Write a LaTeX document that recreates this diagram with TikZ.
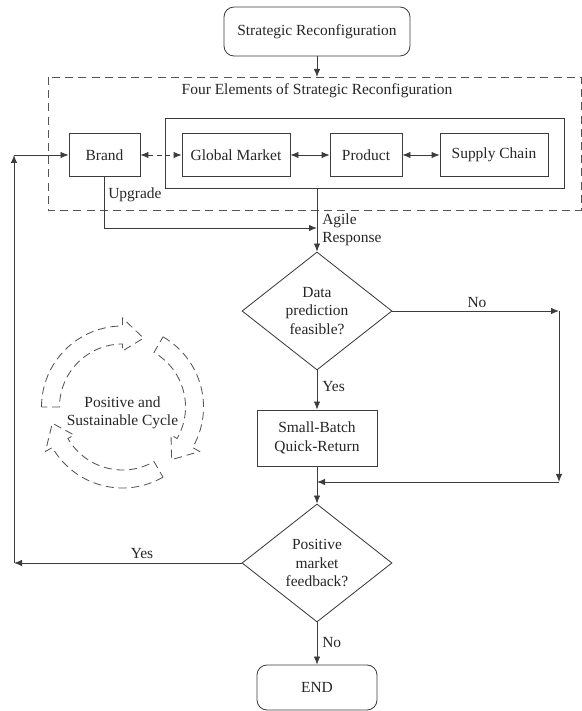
\documentclass[tikz,border=0pt]{standalone}
\usepackage{fontspec}
\setmainfont{Liberation Serif}
\usepackage{xcolor}
\usepackage{tikz}
\usetikzlibrary{shapes.geometric, arrows.meta}

\definecolor{linegray}{HTML}{3C3C3C}
\definecolor{dashgray}{HTML}{555555}

\begin{document}
\begin{tikzpicture}[
    x=0.25mm, y=0.25mm,
    every node/.style={font=\fontsize{11}{13}\selectfont, text=black!85},
    box/.style={draw=linegray, line width=0.6pt, minimum height=10.75mm, inner sep=2pt, align=center},
    termbox/.style={box, rounded corners=2.5mm},
    decision/.style={diamond, draw=linegray, line width=0.6pt, minimum width=37.5mm, minimum height=29.5mm, inner sep=0pt, align=center},
    lbl/.style={inner sep=0.5mm, align=left},
    arrowstyle/.style={-{Latex[length=2mm, width=1.6mm]}, line width=0.6pt, linegray},
    twoway/.style={{Latex[length=2mm, width=1.6mm]}-{Latex[length=2mm, width=1.6mm]}, line width=0.6pt, linegray},
    framedash/.style={dashgray, line width=0.7pt, dash pattern=on 2mm off 1.3mm},
    cycledash/.style={dashgray, line width=0.6pt, dash pattern=on 2mm off 1.2mm}
]

\def\cx{317}      % 主流程中线
\def\Ro{20.25mm}  % 循环外半径
\def\Ri{15.75mm}  % 循环内半径

\useasboundingbox (0,0) rectangle (582,711);

% 起点
\node[termbox, minimum width=46.5mm, minimum height=12.25mm] (start) at (\cx,679.5) {Strategic Reconfiguration};

% 四要素虚线框
\draw[framedash] (48,634) rectangle (581,501);
\node (title) at (\cx,620) {Four Elements of Strategic Reconfiguration};
\node[box, minimum width=99.75mm, minimum height=17.5mm] (core) at (364.5,558) {};

\node[box, minimum width=17.75mm] (brand)   at (104.5,556) {Brand};
\node[box, minimum width=27mm]    (market)  at (236,556)   {Global Market};
\node[box, minimum width=18mm]    (product) at (366,556)   {Product};
\node[box, minimum width=27mm]    (supply)  at (494,556)   {Supply Chain};

\draw[twoway, dash pattern=on 1.2mm off 1mm] (brand) -- (market);
\draw[twoway] (market) -- (product);
\draw[twoway] (product) -- (supply);

\draw[arrowstyle] (start) -- (start |- 0,634);

% 判断与分支
\node[decision] (predict) at (\cx,400) {Data\\prediction\\feasible?};
\node[box, minimum width=30mm, minimum height=14mm] (batch) at (\cx,273) {Small-Batch\\Quick-Return};
\node[decision] (feedback) at (\cx,148) {Positive\\market\\feedback?};
\node[termbox, minimum width=30mm, minimum height=11.25mm] (finish) at (\cx,23.5) {END};

\coordinate (agilejoin) at (\cx,483);
\coordinate (noright)   at (559,400);
\coordinate (nolow)     at (559,229);
\coordinate (merge)     at (\cx,229);
\coordinate (backlow)   at (14,148);
\coordinate (backup)    at (14,556);

\draw[arrowstyle] (brand.south) |- (agilejoin);
\draw[arrowstyle] (predict.north |- core.south) -- (predict.north);
\draw[arrowstyle] (predict.east) -- (noright);
\draw[arrowstyle] (noright) -- (nolow);
\draw[arrowstyle] (nolow) -- (merge);
\draw[arrowstyle] (predict.south) -- (batch.north);
\draw[arrowstyle] (batch.south) -- (feedback.north);
\draw[arrowstyle] (feedback.south) -- (finish.north);
\draw[arrowstyle] (feedback.west) -- (backlow);
\draw[arrowstyle] (backlow) -- (backup);
\draw[arrowstyle] (backup) -- (brand.west);

% 标注
\node[lbl, anchor=west] (upgrade) at (106,516) {Upgrade};
\node[lbl, anchor=west] (agile)   at (320,481) {Agile\\Response};
\node[lbl] (nolabel)  at (477,408) {No};
\node[lbl, anchor=west] (yeslabel) at (320,324) {Yes};
\node[lbl, anchor=west] (endno)    at (320,68)  {No};
\node[lbl] (yesback)  at (142,157) {Yes};

% 循环箭头
\begin{scope}[shift={(122.5,304)}]
\foreach \t/\h/\p in {180/90/73, 60/-30/-47, -60/-150/-167} {
    \draw[cycledash] (\t:\Ro) arc[start angle=\t, end angle=\h, radius=\Ro]
        -- (\h:22.25mm) -- (\p:18mm) -- (\h:14mm) -- (\h:\Ri)
        arc[start angle=\h, end angle=\t, radius=\Ri] -- cycle;
}
\node[align=center] (cycle) at (0,-6) {Positive and\\Sustainable Cycle};
\end{scope}

\end{tikzpicture}
\end{document}
